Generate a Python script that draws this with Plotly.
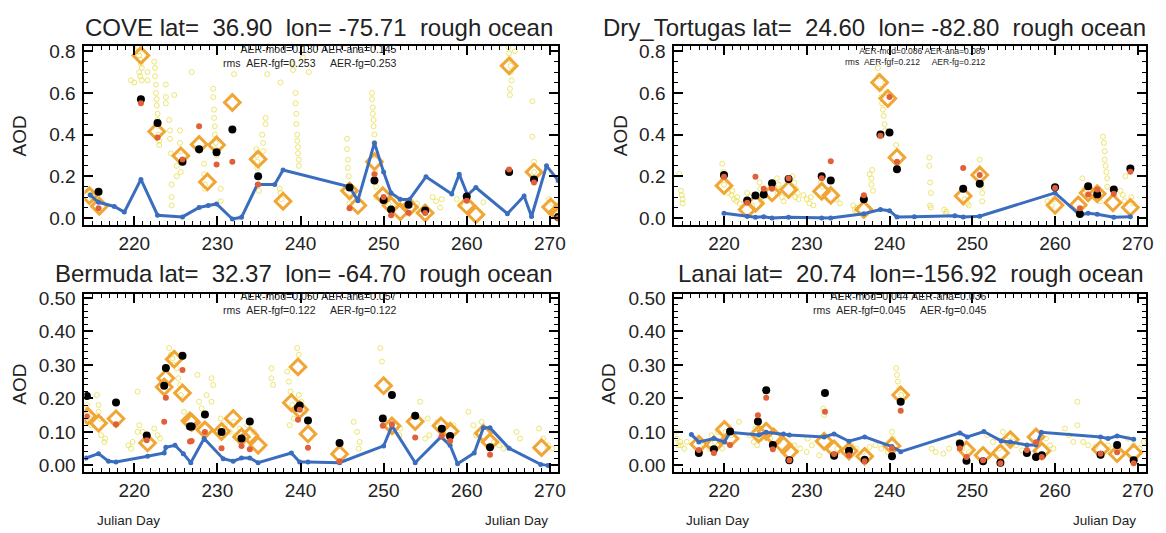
import plotly.graph_objects as go

W, H = 1166, 533


def fx(p):
    return p / W


def fy(p):
    return 1 - p / H


# ---------------- COVE ----------------
cove_obs_day = [214.6, 214.7, 214.8, 214.9, 215.0,
                220.4, 220.5, 220.6, 220.7, 220.8, 220.9, 220.6, 220.7, 219.6, 220.0, 220.9, 221.6, 221.6,
                222.4, 222.5, 222.5, 222.6, 222.6, 222.7, 222.7, 222.8, 222.8, 222.9, 222.9, 223.0, 223.0,
                223.8, 223.8, 223.8, 224.2, 224.3, 224.3, 224.4, 224.5, 224.5, 224.5, 224.8,
                225.5, 225.5, 225.6, 225.6, 225.6, 225.1, 225.1, 226.9,
                228.4, 228.4, 228.5, 228.5,
                229.5, 229.5, 229.6, 229.6, 229.7, 229.7, 229.8, 229.8, 229.9, 230.4, 230.4, 232.0,
                234.7, 234.7, 234.8, 234.8, 234.9, 234.9, 235.0,
                235.4, 235.5, 235.5, 235.8, 235.8, 236.0,
                237.5, 237.6, 237.7, 237.6,
                239.4, 239.4, 239.5, 239.5, 239.6, 239.6, 239.7, 239.7, 239.8, 239.8,
                239.1, 239.1, 240.3, 241.0,
                245.6, 245.6, 245.7, 245.7, 245.8, 245.8, 245.9, 245.9,
                248.6, 248.6, 248.7, 248.7, 248.8, 248.8, 248.9, 248.9, 249.0, 249.0, 249.1, 249.1,
                250.2, 250.6, 251.2, 251.5, 253.3, 253.6, 253.9, 254.0,
                255.9, 256.3, 256.8, 257.0, 258.8, 259.2, 262.0,
                265.0, 265.1, 265.2, 265.3, 265.3, 265.4, 265.2, 265.2, 265.8,
                267.9, 267.9, 268.1, 268.1,
                269.9, 270.3, 270.6, 270.9]
cove_obs_aod = [0.13, 0.12, 0.11, 0.10, 0.09,
                0.82, 0.80, 0.78, 0.76, 0.74, 0.72, 0.70, 0.68, 0.66, 0.65, 0.66, 0.70, 0.66,
                0.75, 0.72, 0.68, 0.64, 0.60, 0.57, 0.54, 0.50, 0.47, 0.44, 0.40, 0.37, 0.35,
                0.64, 0.58, 0.55, 0.47, 0.42, 0.38, 0.31, 0.16, 0.10, 0.06, 0.59,
                0.42, 0.36, 0.32, 0.27, 0.22, 0.25, 0.20, 0.70,
                0.26, 0.21, 0.16, 0.14,
                0.62, 0.58, 0.52, 0.48, 0.44, 0.40, 0.36, 0.33, 0.30, 0.14, 0.08, 0.69,
                0.33, 0.30, 0.27, 0.24, 0.20, 0.16, 0.13,
                0.40, 0.36, 0.32, 0.48, 0.45, 0.69,
                0.14, 0.12, 0.09, 0.65,
                0.60, 0.55, 0.50, 0.45, 0.40, 0.37, 0.34, 0.31, 0.28, 0.25,
                0.74, 0.71, 0.77, 0.70,
                0.38, 0.33, 0.28, 0.24, 0.20, 0.15, 0.10, 0.07,
                0.60, 0.57, 0.53, 0.50, 0.47, 0.44, 0.40, 0.36, 0.30, 0.22, 0.15, 0.10,
                0.09, 0.07, 0.05, 0.08, 0.08, 0.06, 0.04, 0.07,
                0.10, 0.08, 0.05, 0.09, 0.09, 0.06, 0.075,
                0.82, 0.79, 0.76, 0.73, 0.70, 0.66, 0.62, 0.59, 0.80,
                0.56, 0.39, 0.27, 0.22,
                0.09, 0.07, 0.04, 0.02]
cove_daily_day = [214.6, 215.8, 220.8, 222.7, 225.6, 227.8, 228.8, 229.9, 231.8, 234.9, 237.9,
                  245.9, 246.9, 248.9, 249.9, 250.9, 252.0, 253.1, 255.0, 260.0, 261.1, 265.1,
                  268.1, 270.1, 270.9]
cove_daily_aod = [0.107, 0.056, 0.78, 0.415, 0.298, 0.353, 0.173, 0.35, 0.554, 0.282, 0.08,
                  0.13, 0.06, 0.27, 0.107, 0.06, 0.03, 0.052, 0.024, 0.06, 0.016, 0.73,
                  0.22, 0.052, 0.028]
cove_mod_day = [214.7, 215.7, 217.6, 218.8, 220.8, 222.8, 225.8, 227.8, 228.9, 229.9, 231.8, 232.9,
                234.8, 236.9, 237.9, 245.9, 246.9, 248.9, 250.0, 250.9, 252.0, 253.1, 255.1, 258.2,
                259.1, 260.1, 261.1, 264.9, 266.9, 267.8, 269.6, 271.0]
cove_mod_aod = [0.11, 0.075, 0.055, 0.028, 0.185, 0.013, 0.005, 0.05, 0.06, 0.067, -0.005, 0.003,
                0.16, 0.16, 0.23, 0.15, 0.083, 0.36, 0.22, 0.12, 0.09, 0.088, 0.198, 0.115,
                0.21, 0.11, 0.146, 0.02, 0.105, 0.007, 0.25, 0.18]
cove_ana_day = [215.7, 220.8, 222.8, 225.8, 227.8, 229.9, 231.8, 234.9, 245.9, 248.9, 250.0, 250.9,
                253.0, 255.0, 260.0, 265.1, 268.1, 271.0]
cove_ana_aod = [0.126, 0.57, 0.455, 0.27, 0.33, 0.315, 0.425, 0.2, 0.146, 0.18, 0.086, 0.04,
                0.063, 0.036, 0.103, 0.22, 0.185, 0.005]
cove_fg_aod = [0.047, 0.55, 0.386, 0.28, 0.44, 0.256, 0.27, 0.16, 0.047, 0.21, 0.1, 0.013,
               0.025, 0.024, 0.083, 0.232, 0.17, 0.0]

# ---------------- Dry_Tortugas ----------------
dry_obs_day = [214.6, 214.8, 214.9, 215.0, 215.0,
               219.8, 219.9, 219.9, 220.0,
               220.5, 220.9, 221.2, 221.5, 221.9, 221.0, 221.6,
               222.8, 223.2, 223.4,
               224.3, 224.4, 224.5, 224.5,
               226.4, 226.6, 226.8, 227.0, 227.2, 226.5,
               228.3, 228.5, 228.7, 228.9, 229.0, 228.6,
               229.6, 230.0, 230.3, 230.8, 230.5,
               231.7, 231.9, 233.6, 234.0,
               235.6, 235.8, 236.0, 236.1,
               237.6, 237.8, 237.8, 238.0, 237.9,
               238.6, 238.7, 238.9, 239.0, 239.1, 239.2, 239.3, 239.4, 239.5, 239.6, 239.5,
               240.8,
               244.8, 244.8, 244.9, 245.0, 245.0, 244.9,
               246.6, 246.8, 246.9,
               249.1, 249.4, 249.6,
               250.9, 251.0, 251.1, 251.2, 251.2,
               259.1, 259.6, 259.9,
               263.3, 263.6, 263.8, 265.0, 265.4,
               265.8, 265.9, 266.0, 266.0, 266.1, 266.2, 266.3, 266.3,
               267.9, 268.2, 268.4, 268.5, 269.2, 269.4]
dry_obs_aod = [0.21, 0.13, 0.11, 0.09, 0.07,
               0.26, 0.22, 0.19, 0.16,
               0.12, 0.11, 0.09, 0.08, 0.07, 0.13, 0.10,
               0.12, 0.10, 0.06,
               0.17, 0.14, 0.10, 0.08,
               0.19, 0.16, 0.13, 0.10, 0.08, 0.12,
               0.20, 0.17, 0.14, 0.12, 0.09, 0.10,
               0.11, 0.09, 0.07, 0.06, 0.10,
               0.17, 0.15, 0.09, 0.07,
               0.06, 0.04, 0.03, 0.05,
               0.21, 0.19, 0.16, 0.13, 0.23,
               0.72, 0.68, 0.62, 0.58, 0.55, 0.52, 0.49, 0.45, 0.42, 0.60, 0.65,
               0.35,
               0.29, 0.25, 0.17, 0.12, 0.05, 0.06,
               0.04, 0.02, 0.03,
               0.09, 0.07, 0.06,
               0.28, 0.23, 0.15, 0.12, 0.08,
               0.08, 0.06, 0.09,
               0.19, 0.14, 0.11, 0.10, 0.08,
               0.39, 0.36, 0.32, 0.28, 0.25, 0.22, 0.19, 0.15,
               0.13, 0.11, 0.08, 0.20, 0.10, 0.07]
dry_daily_day = [220.0, 222.8, 223.8, 225.8, 227.8, 231.8, 232.9, 236.9, 238.8, 239.8, 240.9,
                 248.9, 250.9, 260.0, 262.8, 264.0, 265.1, 267.0, 269.1]
dry_daily_aod = [0.155, 0.04, 0.07, 0.12, 0.136, 0.128, 0.108, 0.04, 0.65, 0.573, 0.29,
                 0.105, 0.206, 0.061, 0.062, 0.12, 0.116, 0.073, 0.05]
dry_mod_day = [220.0, 222.8, 223.8, 224.8, 225.8, 227.8, 231.8, 232.9, 236.9, 238.9, 240.0, 240.9,
               243.0, 247.9, 248.9, 250.9, 260.0, 263.0, 264.0, 265.1, 267.1, 269.1]
dry_mod_aod = [0.022, 0.008, 0.003, 0.006, 0.0, 0.003, 0.0, 0.0, 0.02, 0.04, 0.035, 0.004,
               0.006, 0.01, 0.005, 0.008, 0.12, 0.015, 0.022, 0.018, 0.003, 0.006]
dry_ana_day = [220.0, 222.8, 223.8, 224.8, 225.8, 227.8, 231.8, 232.9, 236.9, 238.9, 240.0, 240.9,
               248.9, 250.9, 260.0, 263.0, 264.0, 265.1, 267.1, 269.1]
dry_ana_aod = [0.206, 0.084, 0.108, 0.113, 0.167, 0.187, 0.2, 0.18, 0.09, 0.4, 0.41, 0.234,
               0.14, 0.164, 0.147, 0.019, 0.152, 0.112, 0.136, 0.237]
dry_fg_aod = [0.198, 0.073, 0.198, 0.14, 0.14, 0.19, 0.19, 0.272, 0.109, 0.394, 0.58, 0.27,
              0.24, 0.206, 0.144, 0.047, 0.112, 0.136, 0.116, 0.222]

# ---------------- Bermuda ----------------
ber_obs_day = [214.3, 214.5, 214.7, 214.8, 215.5, 215.7, 215.7, 215.9, 216.0, 216.4, 216.5,
               219.3, 219.6, 219.8, 220.4, 220.4, 221.0, 220.6, 222.4, 222.8, 223.1,
               224.2, 224.4, 224.6, 224.7, 225.1, 225.3, 225.5, 225.6, 226.0, 226.3, 226.6,
               227.6, 227.8, 228.1, 228.4, 228.7, 229.3, 229.3, 229.5,
               230.4, 230.9, 231.5, 232.0, 232.2, 232.7, 233.1, 233.6, 234.0, 234.4,
               236.5, 236.5, 236.7, 238.4, 238.6, 238.8, 239.0, 239.2, 238.7,
               239.6, 239.8, 239.8, 240.1, 240.5,
               246.4, 246.8, 247.1, 247.0, 249.6, 249.8,
               250.5, 251.2, 251.9, 252.0, 254.4, 255.3, 255.5, 255.0,
               256.5, 257.2, 257.8, 258.4, 260.2, 260.8, 261.1, 261.8,
               263.3, 263.9, 264.4, 266.0, 266.4, 268.7, 269.2, 269.8, 270.3]
ber_obs_aod = [0.18, 0.16, 0.14, 0.12, 0.21, 0.18, 0.16, 0.14, 0.09, 0.07, 0.08,
               0.06, 0.05, 0.07, 0.22, 0.10, 0.10, 0.12, 0.11, 0.09, 0.08,
               0.35, 0.33, 0.32, 0.30, 0.29, 0.26, 0.24, 0.21, 0.16, 0.14, 0.12,
               0.27, 0.19, 0.17, 0.15, 0.21, 0.19, 0.26, 0.24,
               0.14, 0.12, 0.10, 0.13, 0.09, 0.11, 0.09, 0.12, 0.13, 0.10,
               0.29, 0.26, 0.24, 0.28, 0.25, 0.22, 0.18, 0.14, 0.12,
               0.35, 0.33, 0.21, 0.19, 0.16,
               0.13, 0.10, 0.07, 0.05, 0.35, 0.31,
               0.12, 0.10, 0.09, 0.11, 0.19, 0.14, 0.09, 0.08,
               0.13, 0.10, 0.08, 0.12, 0.16, 0.12, 0.09, 0.13,
               0.07, 0.06, 0.05, 0.10, 0.08, 0.11, 0.08, 0.06, 0.05]
ber_daily_day = [214.4, 215.7, 217.8, 221.6, 223.6, 223.8, 224.8, 225.8, 226.7, 226.9, 228.5,
                 230.5, 231.9, 232.9, 233.9, 234.9, 238.9, 239.7, 239.9, 240.9, 244.7,
                 250.0, 251.0, 253.8, 256.9, 258.0, 262.0, 262.8, 269.0]
ber_daily_aod = [0.147, 0.126, 0.139, 0.067, 0.234, 0.26, 0.317, 0.216, 0.133, 0.128, 0.106,
                 0.101, 0.14, 0.085, 0.089, 0.06, 0.187, 0.294, 0.166, 0.094, 0.034,
                 0.238, 0.118, 0.131, 0.118, 0.102, 0.096, 0.07, 0.053]
ber_mod_day = [214.2, 215.7, 216.9, 217.8, 221.6, 223.6, 223.8, 224.9, 225.9, 226.8, 228.4,
               230.7, 231.9, 232.9, 233.9, 234.9, 238.9, 239.9, 240.9, 244.7, 250.0, 251.0,
               253.8, 256.9, 258.0, 258.9, 260.9, 262.0, 262.8, 265.1, 268.9, 269.8]
ber_mod_aod = [0.022, 0.035, 0.0125, 0.01, 0.027, 0.037, 0.054, 0.06, 0.035, 0.008, 0.08,
               0.02, 0.0125, 0.022, 0.022, 0.008, 0.037, 0.01, 0.01, 0.008, 0.058, 0.118,
               0.008, 0.085, 0.06, 0.005, 0.037, 0.112, 0.112, 0.051, 0.003, 0.0]
ber_ana_day = [214.3, 217.8, 221.5, 223.6, 223.8, 225.8, 226.7, 226.9, 228.5, 230.5, 232.9,
               233.9, 239.7, 239.9, 240.9, 244.7, 249.9, 251.0, 253.8, 257.0, 258.0, 262.8]
ber_ana_aod = [0.207, 0.188, 0.089, 0.238, 0.291, 0.327, 0.116, 0.116, 0.152, 0.1, 0.08,
               0.131, 0.171, 0.179, 0.134, 0.067, 0.14, 0.21, 0.148, 0.109, 0.088, 0.054]
ber_fg_aod = [0.146, 0.123, 0.075, 0.13, 0.202, 0.285, 0.071, 0.073, 0.1, 0.051, 0.058,
              0.048, 0.136, 0.166, 0.053, 0.012, 0.118, 0.123, 0.083, 0.088, 0.073, 0.032]

# ---------------- Lanai ----------------
lan_obs_day = [214.1, 214.3, 214.5, 214.7, 214.8, 215.2, 215.5, 217.0, 217.6, 218.2,
               218.5, 218.9, 219.3, 219.8, 219.3, 220.2, 220.9, 221.8,
               223.1, 223.6, 224.0, 224.5, 223.8, 224.4, 225.6, 226.0, 226.6,
               228.5, 229.2, 230.0, 230.6, 230.1, 231.5, 232.0, 232.1,
               233.7, 234.5, 235.4, 236.0, 236.8, 237.6, 238.3, 239.0, 239.8,
               240.3, 240.4, 240.8, 240.9, 241.0, 241.2, 241.4,
               245.1, 245.6, 246.5, 247.2, 248.3, 248.8, 249.6,
               251.8, 252.5, 253.2, 253.7, 254.5, 255.0, 255.3, 256.0,
               258.9, 259.4, 259.8, 261.2, 261.7, 262.2, 262.7, 262.7,
               263.4, 264.0, 264.9, 266.4, 267.0, 267.7, 268.8, 269.5, 270.2, 270.7]
lan_obs_aod = [0.10, 0.08, 0.06, 0.07, 0.06, 0.05, 0.07, 0.08, 0.06, 0.05,
               0.09, 0.07, 0.06, 0.05, 0.10, 0.10, 0.09, 0.13,
               0.09, 0.07, 0.06, 0.08, 0.11, 0.10, 0.08, 0.06, 0.07,
               0.06, 0.05, 0.04, 0.06, 0.08, 0.03, 0.17, 0.15,
               0.05, 0.04, 0.06, 0.05, 0.04, 0.055, 0.06, 0.05, 0.04,
               0.10, 0.08, 0.29, 0.27, 0.25, 0.23, 0.21,
               0.05, 0.04, 0.035, 0.05, 0.07, 0.05, 0.04,
               0.09, 0.07, 0.05, 0.10, 0.085, 0.07, 0.06, 0.045,
               0.08, 0.06, 0.05, 0.11, 0.09, 0.07, 0.12, 0.19,
               0.07, 0.06, 0.055, 0.06, 0.05, 0.045, 0.08, 0.06, 0.05, 0.07]
lan_daily_day = [216.96, 218.78, 220.05, 220.73, 224.2, 225.1, 226.0, 227.2, 227.9, 232.1,
                 233.3, 235.1, 237.0, 240.3, 241.35, 249.3, 251.3, 253.4, 254.6, 257.7,
                 258.4, 265.5, 267.5, 269.5]
lan_daily_aod = [0.063, 0.062, 0.107, 0.08, 0.094, 0.102, 0.085, 0.06, 0.041, 0.072,
                 0.049, 0.043, 0.027, 0.058, 0.21, 0.046, 0.03, 0.037, 0.077, 0.085,
                 0.043, 0.048, 0.035, 0.038]
lan_mod_day = [216.06, 216.96, 218.78, 220.05, 220.73, 224.2, 225.1, 227.2, 227.9, 232.1,
               233.3, 235.1, 237.0, 240.3, 241.35, 248.5, 249.4, 251.4, 253.5, 254.6,
               256.6, 257.7, 258.35, 265.5, 266.4, 267.5, 269.5]
lan_mod_aod = [0.092, 0.07, 0.08, 0.07, 0.099, 0.091, 0.099, 0.094, 0.091, 0.085,
               0.094, 0.072, 0.085, 0.056, 0.041, 0.097, 0.085, 0.101, 0.073, 0.07,
               0.061, 0.061, 0.099, 0.085, 0.08, 0.088, 0.078]
lan_ana_day = [216.96, 218.78, 220.73, 224.1, 225.1, 225.9, 227.9, 232.2, 233.3, 235.1,
               237.0, 240.3, 241.35, 248.5, 249.3, 251.3, 253.4, 256.6, 257.7, 258.4,
               265.5, 267.5, 269.5]
lan_ana_aod = [0.037, 0.048, 0.101, 0.131, 0.224, 0.061, 0.015, 0.216, 0.029, 0.044,
               0.017, 0.027, 0.19, 0.065, 0.014, 0.0125, 0.008, 0.037, 0.025, 0.03,
               0.032, 0.061, 0.015]
lan_fg_aod = [0.046, 0.037, 0.061, 0.15, 0.202, 0.048, 0.015, 0.16, 0.034, 0.03,
              0.0125, 0.051, 0.163, 0.051, 0.025, 0.015, 0.006, 0.046, 0.069, 0.025,
              0.035, 0.039, 0.006]

titles = ["COVE lat=  36.90  lon= -75.71  rough ocean",
          "Dry_Tortugas lat=  24.60  lon= -82.80  rough ocean",
          "Bermuda lat=  32.37  lon= -64.70  rough ocean",
          "Lanai lat=  20.74  lon=-156.92  rough ocean"]
stats_line1 = ["AER-mod=0.130 AER-ana=0.145", "AER-mod=0.086 AER-ana=0.089",
               "AER-mod=0.050 AER-ana=0.057", "AER-mod=0.044 AER-ana=0.036"]
stats_line2 = ["rms  AER-fgf=0.253     AER-fg=0.253", "rms  AER-fgf=0.212     AER-fg=0.212",
               "rms  AER-fgf=0.122     AER-fg=0.122", "rms  AER-fgf=0.045     AER-fg=0.045"]
x_ticks = [220, 230, 240, 250, 260, 270]
x_range = [214, 271]
y_range_top = [-0.033, 0.824]
y_range_bottom = [-0.02, 0.513]

series = [
    (cove_obs_day, cove_obs_aod, cove_daily_day, cove_daily_aod, cove_mod_day, cove_mod_aod,
     cove_ana_day, cove_ana_aod, cove_fg_aod),
    (dry_obs_day, dry_obs_aod, dry_daily_day, dry_daily_aod, dry_mod_day, dry_mod_aod,
     dry_ana_day, dry_ana_aod, dry_fg_aod),
    (ber_obs_day, ber_obs_aod, ber_daily_day, ber_daily_aod, ber_mod_day, ber_mod_aod,
     ber_ana_day, ber_ana_aod, ber_fg_aod),
    (lan_obs_day, lan_obs_aod, lan_daily_day, lan_daily_aod, lan_mod_day, lan_mod_aod,
     lan_ana_day, lan_ana_aod, lan_fg_aod),
]

# layout geometry (pixels)
x_doms = [(85, 562), (679, 1154), (85, 562), (679, 1154)]
y_doms = [(41, 223), (41, 223), (293, 475), (293, 475)]
title_pos = [(559, 22), (1156, 22), (559, 273), (1154, 273)]
stats_pos = [(401, 51, 10.5), (995, 51, 8.5), (401, 303, 10.5), (995, 303, 10.5)]
aod_pos = [(20, 132), (625, 132), (20, 385), (613, 385)]
julian_pos = [(129, 524), (520, 524), (722, 524), (1112, 524)]

FONT = "Liberation Sans, Arial, Helvetica, sans-serif"
YELLOW = "rgba(232,222,80,0.8)"
ORANGE = "#f0a534"
RED = "#e0603a"
BLUE = "#3b6dbf"

fig = go.Figure()
annotations = []
layout_axes = {}

for i, (obs_d, obs_a, dd, da, md, ma, ad, aa, fa) in enumerate(series):
    k = "" if i == 0 else str(i + 1)
    xa, ya = "x" + k, "y" + k
    fig.add_trace(go.Scatter(x=obs_d, y=obs_a, mode="markers", xaxis=xa, yaxis=ya,
                             marker=dict(symbol="circle-open", size=5, color=YELLOW,
                                         line=dict(width=1, color=YELLOW)),
                             showlegend=False))
    fig.add_trace(go.Scatter(x=dd, y=da, mode="markers", xaxis=xa, yaxis=ya,
                             marker=dict(symbol="diamond-open", size=12, color=ORANGE,
                                         line=dict(width=3, color=ORANGE)),
                             showlegend=False))
    fig.add_trace(go.Scatter(x=md, y=ma, mode="lines+markers", xaxis=xa, yaxis=ya,
                             line=dict(color=BLUE, width=3),
                             marker=dict(size=5, color=BLUE), showlegend=False))
    fig.add_trace(go.Scatter(x=ad, y=aa, mode="markers", xaxis=xa, yaxis=ya,
                             marker=dict(size=8, color="black"), showlegend=False))
    fig.add_trace(go.Scatter(x=ad, y=fa, mode="markers", xaxis=xa, yaxis=ya,
                             marker=dict(size=6, color=RED), showlegend=False))

    top = i < 2
    x0, x1 = x_doms[i]
    y0, y1 = y_doms[i]
    axis_common = dict(showline=True, linecolor="black", linewidth=2, mirror="ticks",
                       ticks="inside", ticklen=9, tickwidth=1.5, tickcolor="black",
                       showgrid=False, zeroline=False,
                       tickfont=dict(family=FONT, size=19, color="#222"))
    layout_axes["xaxis" + k] = dict(axis_common, domain=[fx(x0), fx(x1)], range=x_range,
                                    anchor=ya, tickvals=x_ticks, ticklabelstandoff=0,
                                    minor=dict(dtick=1, tick0=220, ticklen=4, tickwidth=1,
                                               ticks="inside", tickcolor="black"))
    layout_axes["yaxis" + k] = dict(axis_common, domain=[fy(y1), fy(y0)],
                                    range=y_range_top if top else y_range_bottom,
                                    anchor=xa, tick0=0, dtick=0.2 if top else 0.1,
                                    tickformat=".1f" if top else ".2f", ticklabelstandoff=3,
                                    minor=dict(dtick=0.05 if top else 0.02, ticklen=4,
                                               tickwidth=1, ticks="inside", tickcolor="black"))

    tx, ty = title_pos[i]
    annotations.append(dict(text=titles[i].replace(" ", "\u00a0"), x=fx(tx), y=fy(ty),
                            xref="paper", yref="paper", xanchor="right", yanchor="middle",
                            showarrow=False, font=dict(family=FONT, size=24, color="#222")))
    sx, sy, fs = stats_pos[i]
    stats_text = (stats_line1[i].replace(" ", "\u00a0") + "<br>" +
                  stats_line2[i].replace(" ", "\u00a0"))
    annotations.append(dict(text=stats_text, x=fx(sx), y=fy(sy), align="right",
                            xref="paper", yref="paper", xanchor="right", yanchor="middle",
                            showarrow=False, font=dict(family=FONT, size=fs, color="#222")))
    axx, axy = aod_pos[i]
    annotations.append(dict(text="AOD", x=fx(axx), y=fy(axy), xref="paper", yref="paper",
                            xanchor="center", yanchor="middle", textangle=-90,
                            showarrow=False, font=dict(family=FONT, size=19, color="#222")))

for jx, jy in julian_pos:
    annotations.append(dict(text="Julian Day", x=fx(jx), y=fy(jy), xref="paper", yref="paper",
                            xanchor="center", yanchor="middle", showarrow=False,
                            font=dict(family=FONT, size=13.5, color="#222")))

fig.update_layout(width=W, height=H, margin=dict(l=0, r=0, t=0, b=0),
                  paper_bgcolor="white", plot_bgcolor="white",
                  annotations=annotations, showlegend=False, **layout_axes)

fig.write_html("out.html")
